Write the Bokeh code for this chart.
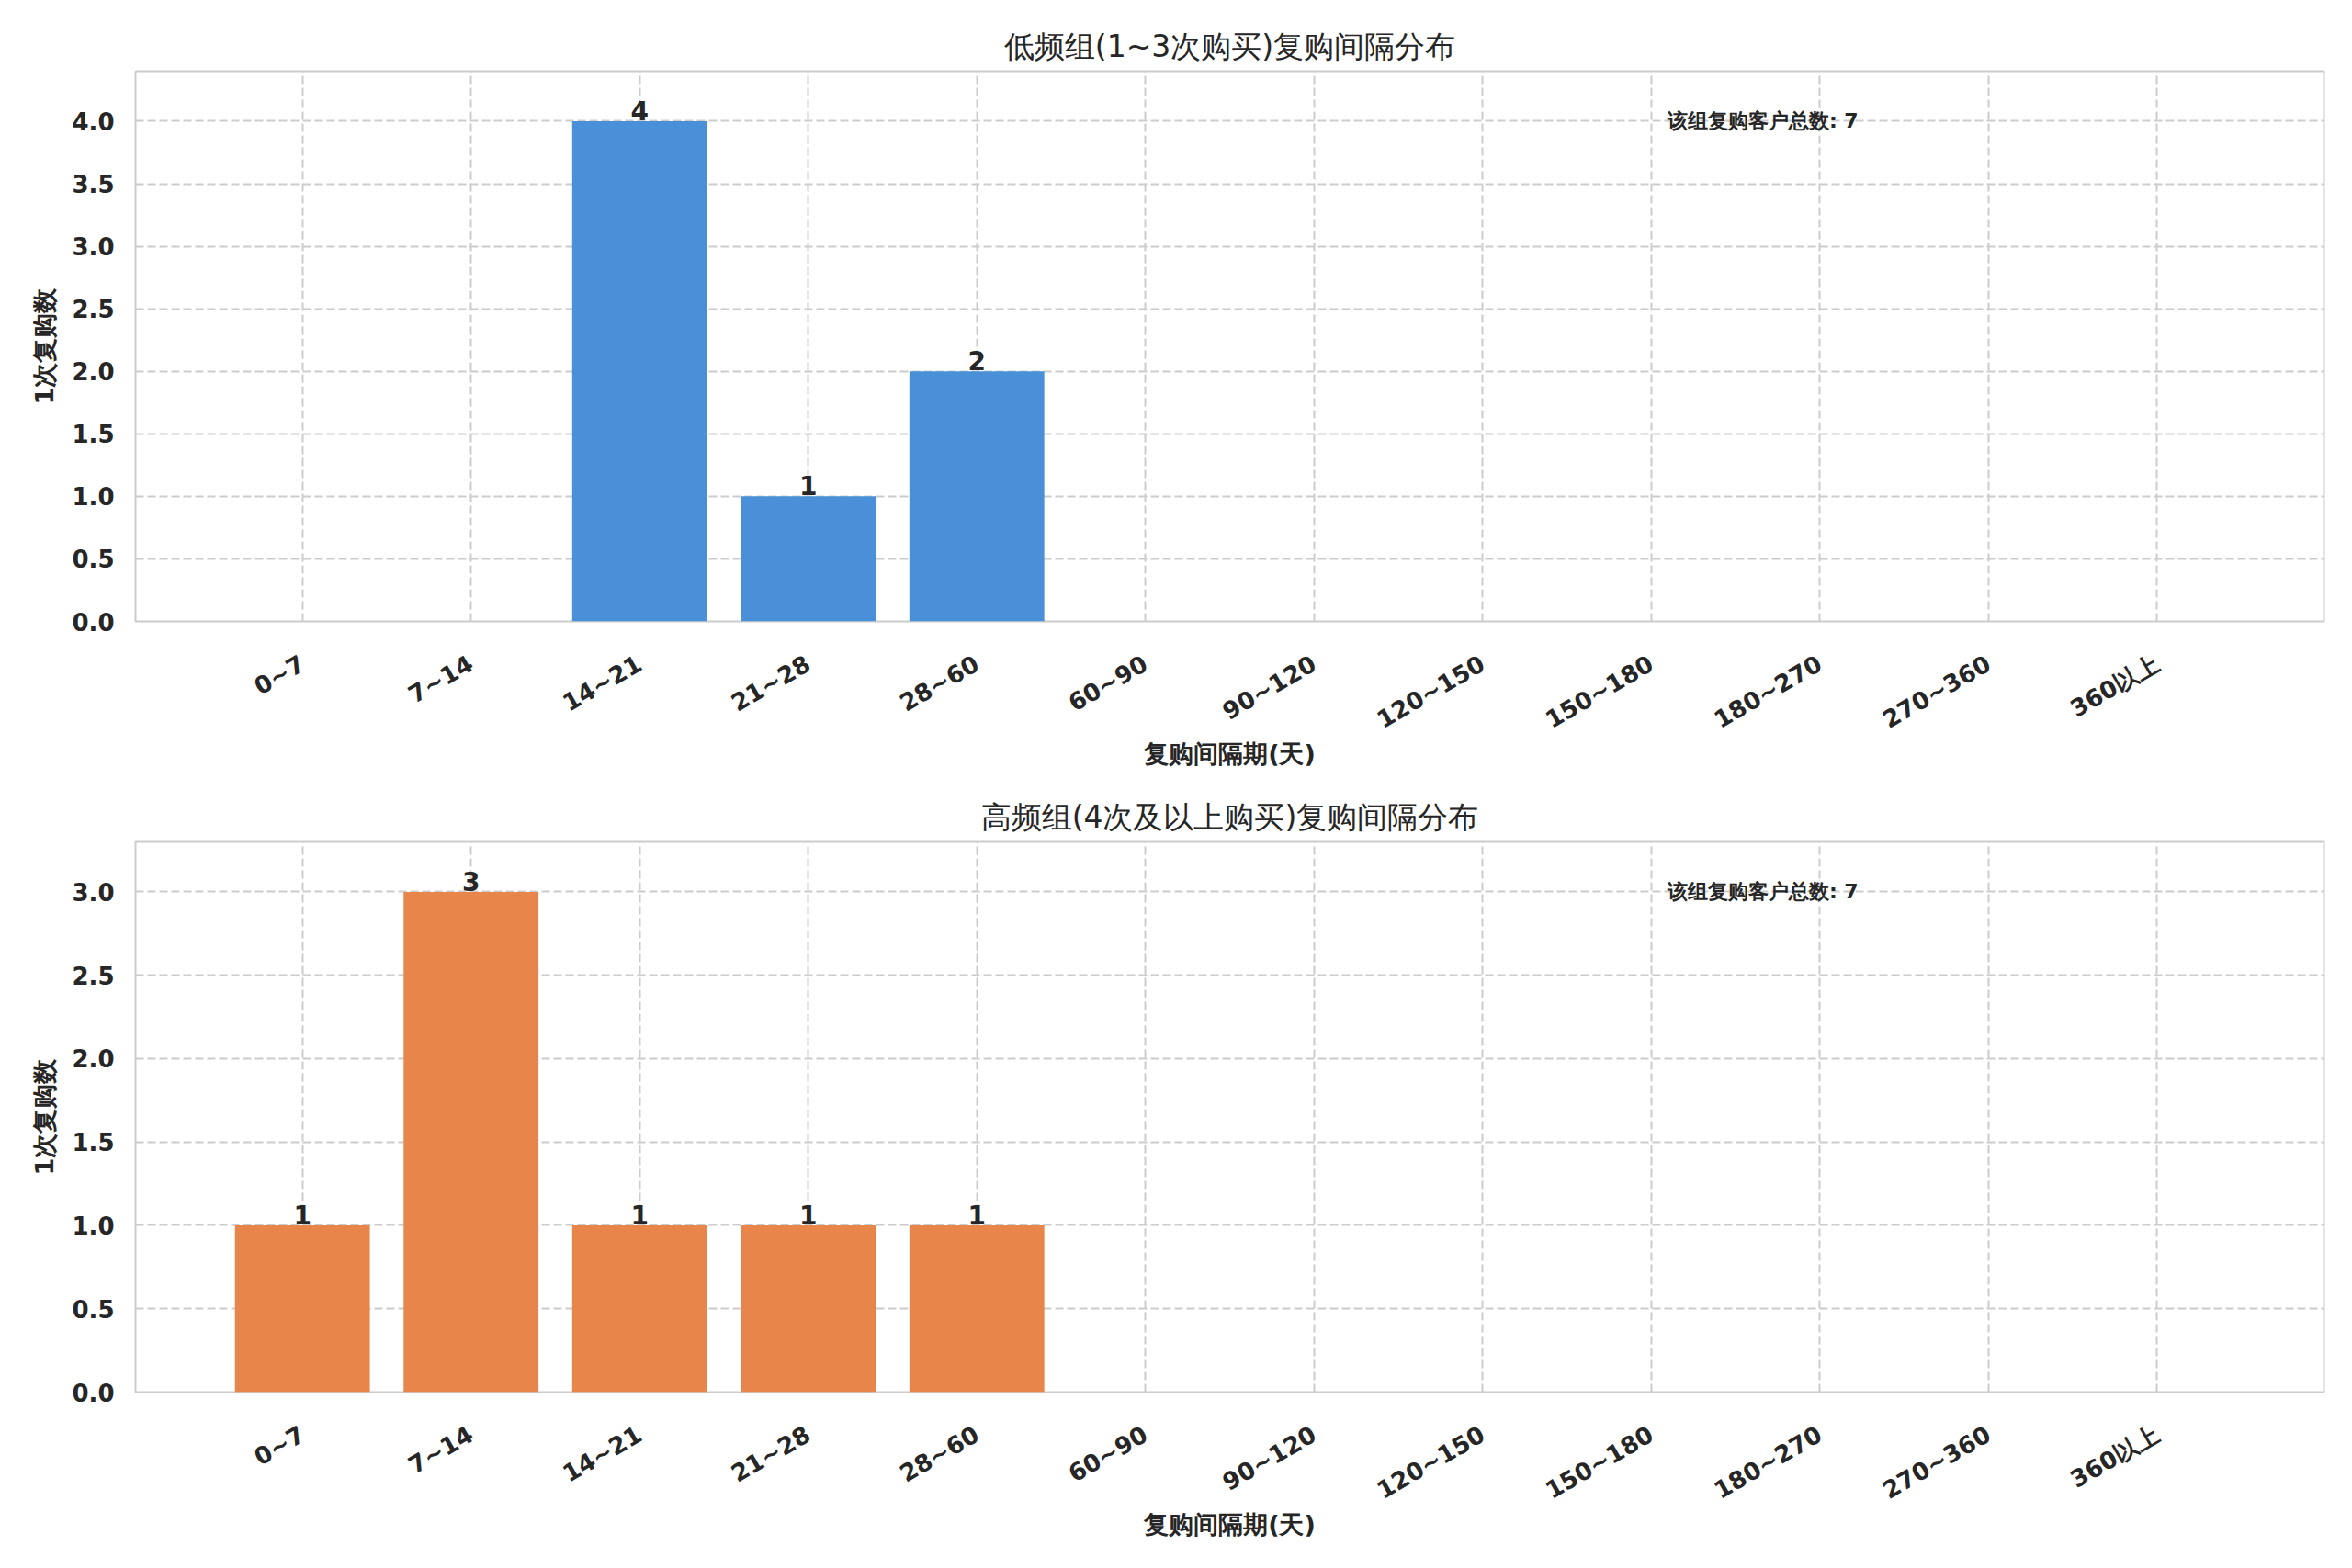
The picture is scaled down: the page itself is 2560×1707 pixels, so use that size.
import math
from bokeh.plotting import figure
from bokeh.layouts import column
from bokeh.models import (Range1d, FixedTicker, ColumnDataSource, Label, Title,
                          NumeralTickFormatter)
from bokeh.core.properties import value
from bokeh.embed import file_html
from bokeh.resources import INLINE

# ---------------- data ----------------
categories = ["0~7", "7~14", "14~21", "21~28", "28~60", "60~90", "90~120",
              "120~150", "150~180", "180~270", "270~360", "360以上"]
low_freq_counts = [0, 0, 4, 1, 2, 0, 0, 0, 0, 0, 0, 0]
high_freq_counts = [1, 3, 1, 1, 1, 0, 0, 0, 0, 0, 0, 0]
titles = ["低频组(1~3次购买)复购间隔分布", "高频组(4次及以上购买)复购间隔分布"]
y_label = "1次复购数"
x_label = "复购间隔期(天)"
note_prefix = "该组复购客户总数"
y_ticks_top = [0, 0.5, 1.0, 1.5, 2.0, 2.5, 3.0, 3.5, 4.0]
y_ticks_bottom = [0, 0.5, 1.0, 1.5, 2.0, 2.5, 3.0]
colors = ["#4A90D9", "#E8854A"]

FONT = "DejaVu Sans"
TXT = "#262626"


def make_panel(counts, title, color, yticks):
    n = len(categories)
    xs = list(range(n))
    x_pad = 0.59
    xr = Range1d(-0.4 - x_pad, (n - 1) + 0.4 + x_pad)
    ymax = max(counts) * 1.1
    yr = Range1d(0, ymax)

    p = figure(frame_width=2382, frame_height=599, x_range=xr, y_range=yr,
               output_backend="svg", toolbar_location=None,
               min_border_left=147, min_border_right=15,
               min_border_top=77, min_border_bottom=163,
               background_fill_color="white", border_fill_color="white")
    p.title = Title(text=title, align="center", text_font=FONT,
                    text_font_size="33px", text_font_style="normal",
                    text_color=TXT, offset=0, standoff=15)

    src = ColumnDataSource(dict(x=xs, top=counts))
    p.vbar(x="x", top="top", width=0.8, source=src, fill_color=color,
           line_color=None)

    lab_x = [x for x, c in zip(xs, counts) if c > 0]
    lab_y = [c for c in counts if c > 0]
    lab_t = [str(c) for c in counts if c > 0]
    p.text(x=lab_x, y=lab_y, text=lab_t, text_font=value(FONT),
           text_font_size="28px", text_font_style="bold", text_color=TXT,
           text_align="center", text_baseline="bottom", y_offset=-1)

    total = sum(counts)
    p.add_layout(Label(x=xr.start + 0.7 * (xr.end - xr.start),
                       y=0.93 * ymax, text=f"{note_prefix}: {total}",
                       text_font=FONT, text_font_size="22px",
                       text_font_style="bold", text_color=TXT,
                       text_align="left", text_baseline="top"))

    # axes
    p.xaxis.ticker = FixedTicker(ticks=xs)
    p.xaxis.major_label_overrides = {i: c for i, c in enumerate(categories)}
    p.xaxis.major_label_orientation = math.pi / 6
    p.yaxis.ticker = FixedTicker(ticks=yticks)
    p.yaxis.formatter = NumeralTickFormatter(format="0.0")
    for ax in (p.xaxis[0], p.yaxis[0]):
        ax.axis_line_color = None
        ax.major_tick_line_color = None
        ax.minor_tick_line_color = None
        ax.major_label_text_font = FONT
        ax.major_label_text_font_size = "26px"
        ax.major_label_text_font_style = "bold"
        ax.major_label_text_color = TXT
        ax.axis_label_text_font = FONT
        ax.axis_label_text_font_size = "27px"
        ax.axis_label_text_font_style = "bold"
        ax.axis_label_text_color = TXT
    p.xaxis.axis_label = x_label
    p.yaxis.axis_label = y_label
    p.xaxis.major_label_standoff = 38
    p.xaxis.axis_label_standoff = -10
    p.yaxis.major_label_standoff = 17
    p.yaxis.axis_label_standoff = 11

    for g in (p.xgrid[0], p.ygrid[0]):
        g.grid_line_color = "#cccccc"
        g.grid_line_width = 2
        g.grid_line_dash = "9 4"
    p.outline_line_color = "#cccccc"
    p.outline_line_width = 2
    return p


p1 = make_panel(low_freq_counts, titles[0], colors[0], y_ticks_top)
p2 = make_panel(high_freq_counts, titles[1], colors[1], y_ticks_bottom)
layout = column(p1, p2, spacing=0)

open("out.html", "w").write(file_html(layout, INLINE))
